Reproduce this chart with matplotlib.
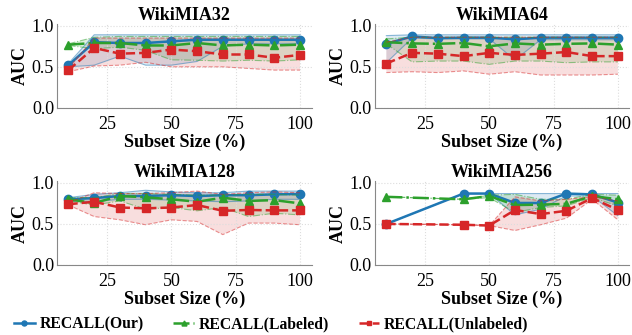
import matplotlib
matplotlib.use("Agg")
import matplotlib.pyplot as plt

plt.rcParams["font.family"] = ["Liberation Serif", "DejaVu Serif"]

# Eixo x (tamanho do subconjunto, %)
x_full = [10, 20, 30, 40, 50, 60, 70, 80, 90, 100]
x_256 = [10, 40, 50, 60, 70, 80, 90, 100]

titles = ["WikiMIA32", "WikiMIA64", "WikiMIA128", "WikiMIA256"]
labels = ["RECALL(Our)", "RECALL(Labeled)", "RECALL(Unlabeled)"]

# WikiMIA32
our_32 = [0.52, 0.80, 0.79, 0.79, 0.81, 0.83, 0.83, 0.83, 0.83, 0.83]
our_32_lo = [0.50, 0.52, 0.63, 0.52, 0.52, 0.565, 0.75, 0.78, 0.78, 0.78]
our_32_hi = [0.54, 0.89, 0.89, 0.89, 0.89, 0.89, 0.89, 0.89, 0.89, 0.89]
lab_32 = [0.77, 0.79, 0.79, 0.76, 0.76, 0.79, 0.76, 0.77, 0.76, 0.77]
lab_32_lo = [0.76, 0.72, 0.74, 0.70, 0.585, 0.58, 0.57, 0.58, 0.57, 0.585]
lab_32_hi = [0.78, 0.86, 0.87, 0.87, 0.87, 0.87, 0.87, 0.87, 0.87, 0.87]
unl_32 = [0.46, 0.73, 0.66, 0.67, 0.71, 0.69, 0.65, 0.65, 0.61, 0.645]
unl_32_lo = [0.44, 0.51, 0.52, 0.555, 0.50, 0.50, 0.50, 0.48, 0.46, 0.46]
unl_32_hi = [0.48, 0.85, 0.85, 0.85, 0.85, 0.85, 0.85, 0.85, 0.85, 0.85]

# WikiMIA64
our_64 = [0.78, 0.87, 0.85, 0.855, 0.855, 0.835, 0.855, 0.855, 0.855, 0.855]
our_64_lo = [0.55, 0.85, 0.84, 0.84, 0.84, 0.585, 0.83, 0.83, 0.83, 0.83]
our_64_hi = [0.88, 0.89, 0.89, 0.89, 0.89, 0.89, 0.89, 0.89, 0.89, 0.89]
lab_64 = [0.80, 0.785, 0.78, 0.79, 0.75, 0.785, 0.77, 0.78, 0.785, 0.77]
lab_64_lo = [0.78, 0.56, 0.57, 0.57, 0.53, 0.57, 0.57, 0.55, 0.56, 0.56]
lab_64_hi = [0.84, 0.86, 0.86, 0.86, 0.86, 0.86, 0.86, 0.86, 0.86, 0.86]
unl_64 = [0.54, 0.67, 0.66, 0.63, 0.67, 0.645, 0.66, 0.68, 0.63, 0.63]
unl_64_lo = [0.43, 0.44, 0.43, 0.45, 0.41, 0.44, 0.40, 0.40, 0.40, 0.41]
unl_64_hi = [0.80, 0.86, 0.86, 0.86, 0.86, 0.86, 0.86, 0.86, 0.86, 0.86]

# WikiMIA128
our_128 = [0.80, 0.815, 0.84, 0.84, 0.85, 0.84, 0.85, 0.85, 0.86, 0.865]
our_128_lo = [0.78, 0.77, 0.80, 0.80, 0.79, 0.78, 0.77, 0.78, 0.80, 0.80]
our_128_hi = [0.82, 0.86, 0.88, 0.91, 0.89, 0.88, 0.88, 0.90, 0.90, 0.90]
lab_128 = [0.80, 0.755, 0.84, 0.825, 0.80, 0.77, 0.82, 0.78, 0.79, 0.75]
lab_128_lo = [0.78, 0.73, 0.78, 0.68, 0.70, 0.66, 0.70, 0.59, 0.63, 0.61]
lab_128_hi = [0.82, 0.82, 0.87, 0.87, 0.86, 0.85, 0.85, 0.86, 0.86, 0.85]
unl_128 = [0.74, 0.77, 0.70, 0.69, 0.70, 0.73, 0.66, 0.67, 0.665, 0.665]
unl_128_lo = [0.73, 0.59, 0.55, 0.49, 0.55, 0.53, 0.37, 0.51, 0.51, 0.49]
unl_128_hi = [0.76, 0.88, 0.87, 0.87, 0.88, 0.90, 0.86, 0.88, 0.89, 0.88]

# WikiMIA256
our_256 = [0.50, 0.87, 0.87, 0.755, 0.755, 0.87, 0.86, 0.76]
our_256_lo = [0.50, 0.87, 0.87, 0.61, 0.68, 0.84, 0.84, 0.60]
our_256_hi = [0.50, 0.87, 0.87, 0.87, 0.87, 0.87, 0.87, 0.87]
lab_256 = [0.83, 0.80, 0.84, 0.73, 0.735, 0.745, 0.84, 0.80]
lab_256_lo = [0.83, 0.80, 0.82, 0.64, 0.70, 0.72, 0.82, 0.72]
lab_256_hi = [0.83, 0.80, 0.85, 0.86, 0.80, 0.80, 0.86, 0.85]
unl_256 = [0.50, 0.49, 0.48, 0.67, 0.62, 0.66, 0.815, 0.67]
unl_256_lo = [0.50, 0.49, 0.48, 0.42, 0.49, 0.57, 0.80, 0.55]
unl_256_hi = [0.50, 0.49, 0.48, 0.83, 0.78, 0.80, 0.83, 0.78]

panels = [
    (x_full, [(our_32, our_32_lo, our_32_hi), (lab_32, lab_32_lo, lab_32_hi), (unl_32, unl_32_lo, unl_32_hi)]),
    (x_full, [(our_64, our_64_lo, our_64_hi), (lab_64, lab_64_lo, lab_64_hi), (unl_64, unl_64_lo, unl_64_hi)]),
    (x_full, [(our_128, our_128_lo, our_128_hi), (lab_128, lab_128_lo, lab_128_hi), (unl_128, unl_128_lo, unl_128_hi)]),
    (x_256, [(our_256, our_256_lo, our_256_hi), (lab_256, lab_256_lo, lab_256_hi), (unl_256, unl_256_lo, unl_256_hi)]),
]

colors = ["#1f77b4", "#2ca02c", "#d62728"]
styles = ["-", "-.", "--"]
markers = ["o", "^", "s"]

fig = plt.figure(figsize=(6.32, 3.35), dpi=100)
positions = [
    [0.090, 0.678, 0.403, 0.250],
    [0.593, 0.678, 0.403, 0.250],
    [0.090, 0.209, 0.403, 0.250],
    [0.593, 0.209, 0.403, 0.250],
]

handles = []
for i, (pos, title, (xs, series)) in enumerate(zip(positions, titles, panels)):
    ax = fig.add_axes(pos)
    for j, (mean, lo, hi) in enumerate(series):
        ax.fill_between(xs, lo, hi, facecolor=colors[j], alpha=0.15, linewidth=0)
        ax.plot(xs, lo, color=colors[j], ls=styles[j], lw=0.8, alpha=0.5)
        ax.plot(xs, hi, color=colors[j], ls=styles[j], lw=0.8, alpha=0.5)
        (ln,) = ax.plot(xs, mean, color=colors[j], ls=styles[j], lw=1.8,
                        marker=markers[j], markersize=6, label=labels[j])
        if i == 0:
            handles.append(ln)
    ax.set_title(title, fontsize=13, fontweight="bold", pad=3)
    ax.set_ylim(0, 1.02)
    ax.set_xlim(5.5, 104.5)
    ax.set_xticks([25, 50, 75, 100])
    ax.set_yticks([0.0, 0.5, 1.0])
    ax.tick_params(labelsize=13, length=0, pad=2)
    ax.tick_params(axis="x", pad=6)
    ax.grid(True, ls=":", color="#dddddd", lw=0.8)
    ax.set_ylabel("AUC", fontsize=13, fontweight="bold", labelpad=2)
    ax.set_xlabel("Subset Size (%)", fontsize=13, fontweight="bold", labelpad=0)
    for s in ["top", "right"]:
        ax.spines[s].set_visible(False)
    for s in ["left", "bottom"]:
        ax.spines[s].set_color("#888888")

fig.legend(handles=handles, loc="lower left", ncol=3, frameon=False,
           bbox_to_anchor=(0.0, -0.035), prop={"weight": "bold", "size": 11.3},
           handlelength=1.3, columnspacing=1.9, handletextpad=0.3,
           markerscale=0.6)

plt.savefig("out.png", dpi=100)
